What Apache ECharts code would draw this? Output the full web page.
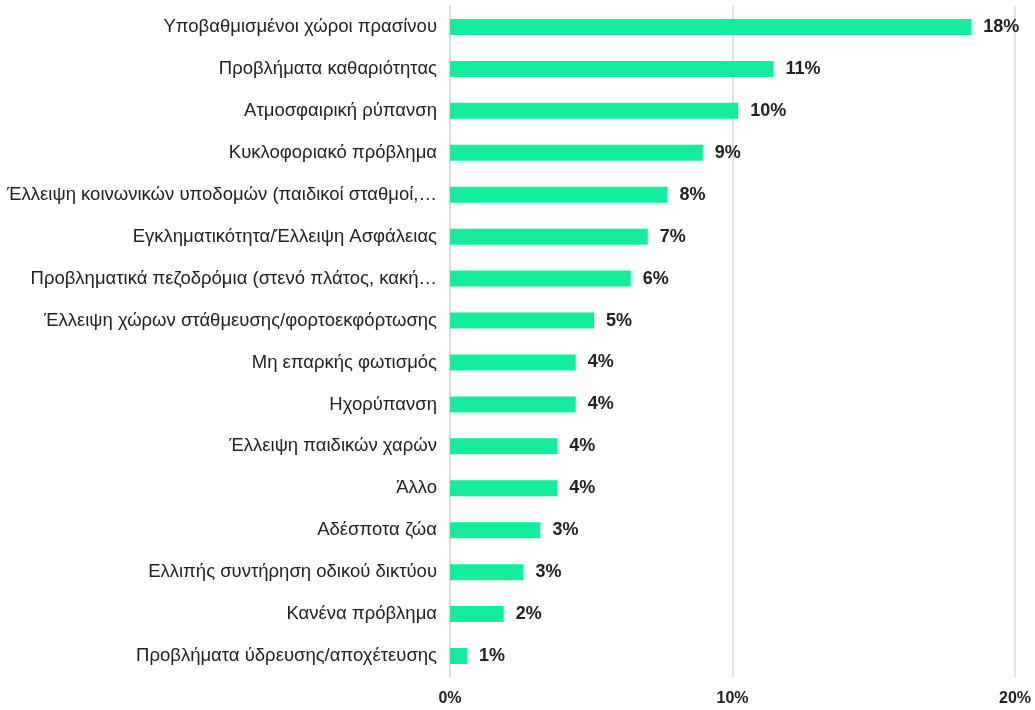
<!DOCTYPE html>
<html>
<head>
<meta charset="utf-8">
<script src="https://cdn.jsdelivr.net/npm/echarts@6/dist/echarts.min.js"></script>
<style>
html,body{margin:0;padding:0;background:#fff;}
#main{width:1035px;height:710px;}
</style>
</head>
<body>
<div id="main"></div>
<script>
var categories = [
  "Υποβαθμισμένοι χώροι πρασίνου",
  "Προβλήματα καθαριότητας",
  "Ατμοσφαιρική ρύπανση",
  "Κυκλοφοριακό πρόβλημα",
  "Έλλειψη κοινωνικών υποδομών (παιδικοί σταθμοί,…",
  "Εγκληματικότητα/Έλλειψη Ασφάλειας",
  "Προβληματικά πεζοδρόμια (στενό πλάτος, κακή…",
  "Έλλειψη χώρων στάθμευσης/φορτοεκφόρτωσης",
  "Μη επαρκής φωτισμός",
  "Ηχορύπανση",
  "Έλλειψη παιδικών χαρών",
  "Άλλο",
  "Αδέσποτα ζώα",
  "Ελλιπής συντήρηση οδικού δικτύου",
  "Κανένα πρόβλημα",
  "Προβλήματα ύδρευσης/αποχέτευσης"
];
var values = [18.45, 11.45, 10.2, 8.95, 7.7, 7.0, 6.4, 5.1, 4.45, 4.45, 3.8, 3.8, 3.2, 2.6, 1.9, 0.6];
var xTicks = [0, 10, 20];

var chart = echarts.init(document.getElementById('main'));
chart.setOption({
  animation: false,
  grid: { left: 450, right: 20, top: 6, bottom: 33, containLabel: false },
  xAxis: {
    type: 'value', min: 0, max: 20, interval: 10,
    axisLine: { show: false }, axisTick: { show: false },
    splitLine: { show: true, lineStyle: { color: '#d9d9d9', width: 1.5 } },
    axisLabel: {
      formatter: function (v) { return xTicks.indexOf(v) >= 0 ? v + '%' : ''; },
      fontFamily: 'Liberation Sans, Arial, sans-serif', fontSize: 16, fontWeight: 'bold',
      color: '#222', margin: 14
    }
  },
  yAxis: {
    type: 'category', data: categories, inverse: true,
    axisLine: { show: true, lineStyle: { color: '#d9d9d9', width: 1.5 } },
    axisTick: { show: false },
    axisLabel: {
      fontFamily: 'Liberation Sans, Arial, sans-serif', fontSize: 18.5, color: '#222', margin: 13
    }
  },
  series: [{
    type: 'bar', data: values, barWidth: 16,
    itemStyle: { color: '#14EE9C' },
    label: {
      show: true, position: 'right', distance: 12,
      formatter: function (p) { return Math.round(p.value) + '%'; },
      fontFamily: 'Liberation Sans, Arial, sans-serif', fontSize: 18, fontWeight: 'bold', color: '#222'
    }
  }]
});
</script>
</body>
</html>
